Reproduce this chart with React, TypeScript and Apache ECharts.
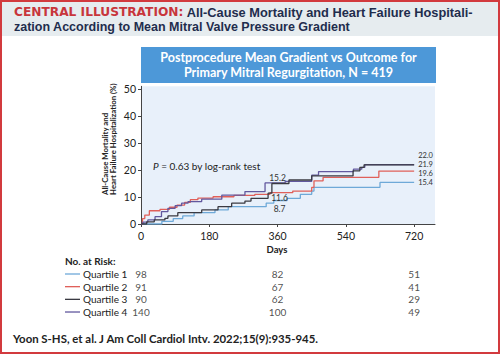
import React, { useEffect, useRef } from 'react';
import * as echarts from 'echarts';

const xTicks = [0, 180, 360, 540, 720];
const yTicks = [0, 10, 20, 30, 40, 50];
const quartiles = ['Quartile 1', 'Quartile 2', 'Quartile 3', 'Quartile 4'];
const colors = ['#6ea9d8', '#e0605a', '#3a3a42', '#62589e'];
const atRiskDays = [0, 360, 720];
const atRisk = [
  [98, 82, 51],
  [91, 67, 41],
  [90, 62, 29],
  [140, 100, 49],
];
const q1 = [[0, 0], [55, 1.0], [85, 2.0], [110, 3.0], [140, 4.2], [195, 5.2], [230, 6.4], [330, 7.7], [350, 8.7], [385, 9.5], [420, 11.0], [450, 12.2], [456, 13.6], [630, 15.4], [720, 15.4]];
const q2 = [[0, 0], [4, 2.0], [10, 3.3], [22, 4.9], [50, 5.4], [75, 6.2], [95, 7.0], [115, 8.0], [130, 9.0], [150, 9.6], [190, 10.1], [245, 10.6], [300, 11.0], [340, 11.6], [400, 12.2], [450, 13.6], [456, 16.0], [480, 17.3], [627, 19.6], [720, 19.6]];
const q3 = [[0, 0], [15, 0.8], [35, 1.5], [63, 2.1], [71, 3.0], [97, 4.2], [160, 5.2], [203, 6.4], [239, 7.7], [274, 8.5], [290, 9.5], [335, 11.4], [345, 15.0], [390, 16.3], [450, 17.8], [559, 19.7], [577, 21.0], [588, 21.9], [720, 21.9]];
const q4 = [[0, 0], [5, 0.7], [18, 1.5], [37, 2.7], [54, 4.6], [71, 5.8], [90, 6.8], [107, 7.7], [124, 8.3], [160, 9.2], [213, 10.7], [274, 12.0], [327, 15.2], [380, 15.8], [450, 18.1], [468, 19.4], [560, 20.3], [582, 21.0], [590, 22.0], [720, 22.0]];
const curves = [q1, q2, q3, q4];
const midLabels = [[360, 8.7], [360, 11.6], null, [360, 15.2]];
const midOffsets = [[2, 8], [2, 5], null, [0, -5]];
const endOffsets = [[0, 0], [0, 2], [0, -0.3], [0, -9.2]];

const FONT = 'Lato';
const TITLE_FONT = 'Liberation Sans';

export default function App() {
  const ref = useRef<HTMLDivElement>(null);
  useEffect(() => {
    document.body.style.margin = '0';
    const chart = echarts.init(ref.current!, null, { renderer: 'svg' });

    const lineSeries = curves.map((data, i) => {
      const s: any = {
        type: 'line',
        name: quartiles[i],
        xAxisIndex: 0,
        yAxisIndex: 0,
        step: 'end',
        data,
        symbol: 'none',
        z: i === 2 ? 3 : 2,
        lineStyle: { color: colors[i], width: 1.3 },
        endLabel: {
          show: true,
          distance: 4,
          offset: endOffsets[i],
          fontFamily: FONT,
          fontSize: 7.5,
          lineHeight: 7,
          color: '#333',
          formatter: (p: any) => Number(p.value[1]).toFixed(1),
        },
      };
      if (midLabels[i]) {
        s.markPoint = {
          symbol: 'circle',
          symbolSize: 1,
          itemStyle: { color: 'rgba(0,0,0,0)' },
          label: {
            show: true,
            position: 'inside',
            offset: midOffsets[i],
            fontFamily: FONT,
            fontSize: 8.5,
            color: '#333',
            formatter: (p: any) => Number(p.data.coord[1]).toFixed(1),
          },
          data: [{ coord: midLabels[i] }],
        };
      }
      return s;
    });

    const riskData: any[] = [];
    atRisk.forEach((row, i) => row.forEach((n, j) => riskData.push([atRiskDays[j], i, n])));

    const graphic: any[] = [
      { type: 'rect', shape: { x: 0, y: 0, width: 500, height: 36 }, style: { fill: '#e6ecef' }, silent: true },
      { type: 'rect', shape: { x: 1, y: 1, width: 498, height: 352 }, style: { fill: 'none', stroke: '#d23a3e', lineWidth: 2 }, silent: true },
      {
        type: 'text', x: 14, y: 12.1,
        style: {
          text: '{r|CENTRAL ILLUSTRATION:} {b|All-Cause Mortality and Heart Failure Hospitali-}',
          verticalAlign: 'middle', align: 'left', lineHeight: 12,
          rich: {
            r: { fontFamily: 'DejaVu Sans', fontWeight: 'bold', fontSize: 12.2, lineHeight: 12, fill: '#c8353b' },
            b: { fontFamily: TITLE_FONT, fontWeight: 'bold', fontSize: 12.8, lineHeight: 12, fill: '#1f2d4d' },
          },
        },
      },
      {
        type: 'text', x: 14, y: 26.6,
        style: { text: 'zation According to Mean Mitral Valve Pressure Gradient', fontFamily: TITLE_FONT, fontWeight: 'bold', fontSize: 12.5, lineHeight: 12, fill: '#1f2d4d', verticalAlign: 'middle', align: 'left' },
      },
      { type: 'rect', shape: { x: 141, y: 47, width: 295, height: 36 }, style: { fill: '#4d98d8' } },
      {
        type: 'text', x: 288.5, y: 65,
        style: { text: 'Postprocedure Mean Gradient vs Outcome for\nPrimary Mitral Regurgitation, N = 419', fontFamily: FONT, fontWeight: 'bold', fontSize: 12.5, lineHeight: 15, fill: '#fff', align: 'center', verticalAlign: 'middle' },
      },
      {
        type: 'text', x: 109, y: 195, rotation: Math.PI / 2,
        style: { text: 'All-Cause Mortality and\nHeart Failure Hospitalization (%)', fontFamily: FONT, fontWeight: 'bold', fontSize: 7.8, lineHeight: 8.5, fill: '#222', align: 'left', verticalAlign: 'middle' },
      },
      {
        type: 'text', x: 153, y: 166,
        style: {
          text: '{i|P} = 0.63 by log-rank test', fontFamily: FONT, fontSize: 10, fill: '#222', verticalAlign: 'middle', align: 'left',
          rich: { i: { fontFamily: FONT, fontSize: 10, fontStyle: 'italic', fill: '#222' } },
        },
      },
      { type: 'text', x: 277, y: 249, style: { text: 'Days', fontFamily: FONT, fontWeight: 'bold', fontSize: 9.5, fill: '#222', align: 'center', verticalAlign: 'middle' } },
      { type: 'text', x: 65, y: 261, style: { text: 'No. at Risk:', fontFamily: FONT, fontWeight: 'bold', fontSize: 10, fill: '#222', align: 'left', verticalAlign: 'middle' } },
      { type: 'text', x: 13, y: 338, style: { text: 'Yoon S-HS, et al. J Am Coll Cardiol Intv. 2022;15(9):935-945.', fontFamily: FONT, fontWeight: 'bold', fontSize: 11.4, fill: '#222', align: 'left', verticalAlign: 'middle' } },
    ];
    quartiles.forEach((q, i) => {
      const y = 274 + i * 12.67;
      graphic.push({ type: 'line', shape: { x1: 65, y1: y, x2: 80, y2: y }, style: { stroke: colors[i], lineWidth: 1.3 } });
      graphic.push({ type: 'text', x: 83, y, style: { text: q, fontFamily: FONT, fontSize: 10, fill: '#222', align: 'left', verticalAlign: 'middle' } });
    });

    chart.setOption({
      animation: false,
      textStyle: { fontFamily: FONT },
      grid: [
        { left: 141, top: 86.3, width: 294, height: 137.7, show: true, backgroundColor: '#e8f0fa', borderWidth: 0, containLabel: false },
        { left: 141, top: 267.7, width: 294, height: 50.7, show: false, containLabel: false },
      ],
      xAxis: [
        {
          type: 'value', gridIndex: 0, min: 0, max: 775,
          axisLine: { show: true, lineStyle: { color: '#444', width: 1 } },
          axisTick: { show: true, length: 3, customValues: xTicks, lineStyle: { color: '#444' } },
          axisLabel: { customValues: xTicks, fontFamily: FONT, fontSize: 10.5, color: '#222', margin: 6 },
          splitLine: { show: false },
        },
        { type: 'value', gridIndex: 1, min: 0, max: 775, show: false },
      ],
      yAxis: [
        {
          type: 'value', gridIndex: 0, min: 0, max: 51,
          axisLine: { show: true, lineStyle: { color: '#444', width: 1 } },
          axisTick: { show: true, length: 3, customValues: yTicks, lineStyle: { color: '#444' } },
          axisLabel: { customValues: yTicks, fontFamily: FONT, fontSize: 10.5, color: '#222', margin: 5 },
          splitLine: { show: false },
        },
        { type: 'category', gridIndex: 1, data: quartiles, inverse: true, show: false },
      ],
      series: [
        ...lineSeries,
        {
          type: 'scatter', xAxisIndex: 1, yAxisIndex: 1, data: riskData, symbolSize: 1,
          itemStyle: { color: 'rgba(0,0,0,0)' },
          encode: { x: 0, y: 1 },
          label: { show: true, position: 'inside', fontFamily: FONT, fontSize: 10, color: '#222', formatter: (p: any) => String(p.value[2]) },
        },
      ],
      graphic,
    });
    return () => chart.dispose();
  }, []);
  return <div ref={ref} style={{ width: 500, height: 354 }} />;
}
